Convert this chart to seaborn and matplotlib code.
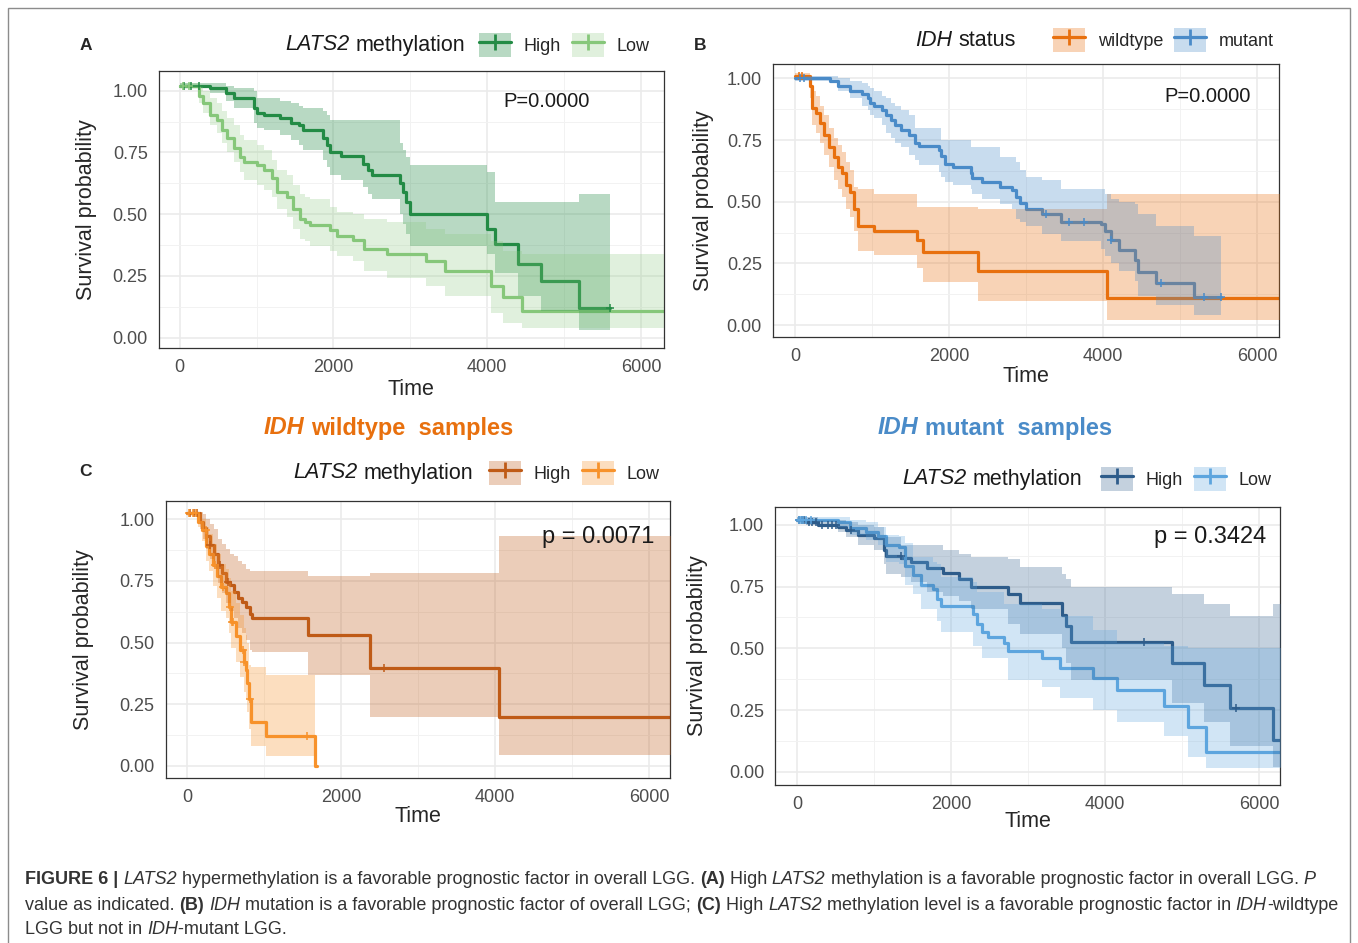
import matplotlib
matplotlib.use("Agg")
import matplotlib.pyplot as plt
from matplotlib.patches import Patch, Rectangle
from matplotlib.lines import Line2D
import numpy as np
import seaborn as sns

# ---------------- data ----------------
# Panel A: LATS2 methylation, all LGG
a_high_t = [0, 400, 600, 700, 960, 1000, 1100, 1300, 1450, 1550, 1600, 1870, 1920, 1960, 2100,
            2380, 2450, 2500, 2870, 2900, 2940, 3000, 4000, 4100, 4400, 4700, 5200, 5600]
a_high_s = [1.02, 1.01, 0.99, 0.97, 0.93, 0.91, 0.90, 0.89, 0.87, 0.86, 0.84, 0.81, 0.78, 0.75, 0.735,
            0.705, 0.68, 0.66, 0.625, 0.59, 0.55, 0.50, 0.44, 0.38, 0.30, 0.23, 0.12, 0.12]
a_high_hi = [1.03, 1.03, 1.02, 1.01, 1.00, 0.97, 0.97, 0.96, 0.95, 0.94, 0.93, 0.92, 0.90, 0.88, 0.88,
             0.88, 0.88, 0.88, 0.79, 0.76, 0.73, 0.70, 0.67, 0.55, 0.55, 0.55, 0.58, 0.58]
a_high_lo = [1.01, 0.99, 0.96, 0.93, 0.87, 0.85, 0.84, 0.82, 0.80, 0.78, 0.76, 0.72, 0.69, 0.66, 0.64,
             0.61, 0.58, 0.56, 0.50, 0.46, 0.42, 0.37, 0.34, 0.26, 0.17, 0.11, 0.03, 0.03]
a_high_cens = [60, 150, 250, 5600]

a_low_t = [0, 200, 250, 300, 400, 480, 550, 620, 700, 780, 830, 1000, 1100, 1200, 1260, 1400, 1480,
           1560, 1630, 1700, 1960, 2050, 2250, 2400, 2700, 3200, 3450, 4050, 4200, 4450, 6300]
a_low_s = [1.02, 1.02, 0.98, 0.95, 0.90, 0.88, 0.84, 0.81, 0.77, 0.73, 0.71, 0.70, 0.68, 0.645, 0.59,
           0.57, 0.52, 0.48, 0.47, 0.455, 0.435, 0.41, 0.395, 0.36, 0.34, 0.31, 0.27, 0.21, 0.165, 0.11, 0.11]
a_low_hi = [1.03, 1.03, 1.02, 1.00, 0.97, 0.95, 0.92, 0.89, 0.86, 0.82, 0.80, 0.78, 0.76, 0.72, 0.68,
            0.66, 0.62, 0.58, 0.57, 0.56, 0.53, 0.51, 0.50, 0.48, 0.47, 0.44, 0.42, 0.39, 0.35, 0.34, 0.34]
a_low_lo = [1.01, 1.01, 0.95, 0.91, 0.86, 0.83, 0.79, 0.75, 0.71, 0.67, 0.64, 0.62, 0.60, 0.57, 0.52,
            0.49, 0.44, 0.40, 0.39, 0.37, 0.35, 0.33, 0.31, 0.27, 0.24, 0.21, 0.17, 0.10, 0.06, 0.04, 0.04]
a_low_cens = [40, 120]

# Panel B: IDH status
b_wt_t = [0, 150, 200, 225, 277, 328, 380, 446, 508, 560, 610, 660, 713, 764, 815, 1020, 1585, 1660,
          2380, 4046, 6300]
b_wt_s = [1.01, 1.01, 0.97, 0.88, 0.86, 0.82, 0.77, 0.72, 0.68, 0.64, 0.615, 0.57, 0.54, 0.47, 0.40,
          0.38, 0.345, 0.295, 0.22, 0.11, 0.11]
b_wt_hi = [1.02, 1.02, 1.01, 0.95, 0.93, 0.89, 0.85, 0.80, 0.76, 0.73, 0.70, 0.66, 0.63, 0.56, 0.55,
           0.53, 0.48, 0.48, 0.47, 0.53, 0.53]
b_wt_lo = [1.00, 1.00, 0.92, 0.81, 0.78, 0.74, 0.69, 0.64, 0.59, 0.55, 0.52, 0.47, 0.44, 0.38, 0.30,
           0.285, 0.23, 0.175, 0.10, 0.02, 0.02]
b_wt_cens = [50, 90]

b_mu_t = [0, 456, 560, 713, 867, 944, 970, 1020, 1123, 1174, 1251, 1302, 1380, 1482, 1560, 1610, 1867,
          1892, 1944, 2046, 2277, 2302, 2431, 2661, 2815, 2866, 2918, 2995, 3200, 3456, 3969, 4020,
          4097, 4200, 4405, 4456, 4687, 5174, 5533]
b_mu_s = [1.00, 0.99, 0.97, 0.95, 0.935, 0.92, 0.90, 0.89, 0.87, 0.85, 0.83, 0.81, 0.79, 0.77, 0.74,
          0.725, 0.71, 0.685, 0.655, 0.64, 0.615, 0.595, 0.58, 0.56, 0.548, 0.52, 0.495, 0.47, 0.45,
          0.42, 0.41, 0.38, 0.345, 0.305, 0.265, 0.215, 0.17, 0.115, 0.115]
b_mu_hi = [1.01, 1.01, 1.00, 0.99, 0.98, 0.97, 0.96, 0.95, 0.93, 0.92, 0.90, 0.89, 0.87, 0.85, 0.80,
           0.80, 0.80, 0.75, 0.75, 0.75, 0.72, 0.72, 0.72, 0.68, 0.68, 0.66, 0.63, 0.60, 0.59, 0.55,
           0.55, 0.53, 0.51, 0.50, 0.49, 0.45, 0.40, 0.36, 0.36]
b_mu_lo = [0.99, 0.98, 0.95, 0.92, 0.89, 0.87, 0.85, 0.84, 0.81, 0.78, 0.76, 0.74, 0.72, 0.69, 0.67,
           0.65, 0.62, 0.60, 0.58, 0.57, 0.55, 0.53, 0.51, 0.49, 0.47, 0.43, 0.42, 0.40, 0.37, 0.34,
           0.31, 0.28, 0.25, 0.22, 0.18, 0.12, 0.08, 0.04, 0.04]
b_mu_cens = [60, 120, 3250, 3560, 3750, 4100, 4750, 5300, 5533]

# Panel C: IDH wildtype samples
c_high_t = [0, 144, 170, 205, 247, 298, 350, 400, 452, 503, 555, 606, 658, 709, 760, 812, 837, 1572,
            2378, 4048, 6300]
c_high_s = [1.025, 1.025, 0.99, 0.965, 0.93, 0.895, 0.86, 0.815, 0.78, 0.745, 0.735, 0.705, 0.68,
            0.665, 0.645, 0.615, 0.60, 0.53, 0.395, 0.20, 0.20]
c_high_hi = [1.03, 1.03, 1.03, 1.02, 1.00, 0.98, 0.96, 0.92, 0.90, 0.88, 0.86, 0.85, 0.83, 0.82, 0.80,
             0.79, 0.79, 0.77, 0.78, 0.93, 0.93]
c_high_lo = [1.02, 1.02, 0.96, 0.92, 0.88, 0.84, 0.80, 0.74, 0.70, 0.66, 0.63, 0.60, 0.56, 0.54, 0.51,
             0.47, 0.46, 0.37, 0.20, 0.045, 0.045]
c_high_cens = [40, 90, 130, 300, 420, 530, 2560]

c_low_t = [0, 118, 144, 195, 247, 288, 339, 390, 442, 503, 545, 565, 632, 683, 735, 760, 770, 800,
           822, 1017, 1660, 1680]
c_low_s = [1.025, 1.025, 0.99, 0.955, 0.89, 0.86, 0.815, 0.77, 0.725, 0.70, 0.645, 0.585, 0.525,
           0.47, 0.42, 0.39, 0.335, 0.27, 0.18, 0.12, 0.0, 0.0]
c_low_hi = [1.03, 1.03, 1.03, 1.00, 0.97, 0.94, 0.90, 0.86, 0.82, 0.80, 0.76, 0.71, 0.66, 0.61, 0.56,
            0.53, 0.50, 0.41, 0.40, 0.37, 0.0, 0.0]
c_low_lo = [1.02, 1.02, 0.97, 0.91, 0.83, 0.79, 0.73, 0.68, 0.63, 0.60, 0.54, 0.48, 0.42, 0.36, 0.30,
            0.27, 0.22, 0.15, 0.08, 0.04, 0.0, 0.0]
c_low_cens = [20, 70, 110, 240, 360, 470, 560, 580, 600, 720, 740, 815, 1560]

# Panel D: IDH mutant samples
d_high_t = [0, 123, 277, 534, 637, 791, 996, 1125, 1150, 1356, 1484, 1690, 1895, 2100, 2254, 2742,
            2896, 3435, 3487, 3564, 4873, 5284, 5618, 6183, 6300]
d_high_s = [1.02, 1.01, 1.00, 0.99, 0.98, 0.96, 0.945, 0.90, 0.875, 0.865, 0.85, 0.825, 0.805, 0.78,
            0.75, 0.72, 0.685, 0.635, 0.59, 0.525, 0.44, 0.35, 0.26, 0.13, 0.13]
d_high_hi = [1.03, 1.03, 1.02, 1.02, 1.01, 1.00, 0.99, 0.96, 0.95, 0.92, 0.92, 0.92, 0.90, 0.88, 0.87,
             0.86, 0.83, 0.80, 0.78, 0.75, 0.72, 0.68, 0.63, 0.68, 0.68]
d_high_lo = [1.01, 1.00, 0.99, 0.97, 0.95, 0.92, 0.90, 0.84, 0.80, 0.79, 0.77, 0.73, 0.71, 0.69, 0.66,
             0.60, 0.56, 0.50, 0.44, 0.37, 0.28, 0.20, 0.105, 0.02, 0.02]
d_high_cens = [30, 60, 90, 150, 200, 250, 320, 400, 450, 500, 700, 1350, 4500, 5700]

d_low_t = [0, 534, 688, 894, 1048, 1150, 1330, 1407, 1510, 1612, 1766, 1818, 1869, 2280, 2331, 2408,
           2485, 2691, 2742, 3179, 3410, 3846, 4154, 4770, 5079, 5310, 6300]
d_low_s = [1.02, 1.01, 0.985, 0.97, 0.955, 0.92, 0.91, 0.835, 0.795, 0.755, 0.74, 0.70, 0.67, 0.64,
           0.60, 0.565, 0.545, 0.52, 0.49, 0.46, 0.42, 0.38, 0.33, 0.265, 0.18, 0.08, 0.08]
d_low_hi = [1.03, 1.03, 1.02, 1.01, 0.99, 0.96, 0.955, 0.925, 0.87, 0.87, 0.85, 0.84, 0.79, 0.77, 0.73,
            0.73, 0.73, 0.68, 0.68, 0.66, 0.63, 0.575, 0.52, 0.51, 0.50, 0.50, 0.50]
d_low_lo = [1.01, 0.99, 0.96, 0.94, 0.92, 0.85, 0.84, 0.755, 0.72, 0.66, 0.66, 0.61, 0.565, 0.51, 0.51,
            0.46, 0.46, 0.46, 0.37, 0.345, 0.30, 0.25, 0.20, 0.145, 0.06, 0.015, 0.015]
d_low_cens = [20, 50, 80, 120, 180]

p_values = ["P=0.0000", "P=0.0000", "p = 0.0071", "p = 0.3424"]
x_ticks = [0, 2000, 4000, 6000]
y_ticks = [0.0, 0.25, 0.50, 0.75, 1.00]

# text pieces: (text, style) with style b = bold, i = italic, n = plain
lats2_title = [("LATS2", 'i'), (" methylation", 'n')]
idh_title = [("IDH", 'i'), (" status", 'n')]
wt_title = [("IDH", 'bi'), (" wildtype  samples", 'b')]
mu_title = [("IDH", 'bi'), (" mutant  samples", 'b')]
caption = [
    [("FIGURE 6 | ", 'b'), ("LATS2", 'i'),
     (" hypermethylation is a favorable prognostic factor in overall LGG. ", 'n'), ("(A)", 'b'),
     (" High ", 'n'), ("LATS2", 'i'),
     (" methylation is a favorable prognostic factor in overall LGG. ", 'n'), ("P", 'i')],
    [("value as indicated. ", 'n'), ("(B)", 'b'), (" ", 'n'), ("IDH", 'i'),
     (" mutation is a favorable prognostic factor of overall LGG; ", 'n'), ("(C)", 'b'),
     (" High ", 'n'), ("LATS2", 'i'),
     (" methylation level is a favorable prognostic factor in ", 'n'), ("IDH", 'i'), ("-wildtype", 'n')],
    [("LGG but not in ", 'n'), ("IDH", 'i'), ("-mutant LGG.", 'n')],
]

# ---------------- style ----------------
W, H = 1358, 943
sns.set_style("white")
plt.rcParams['font.family'] = ['Liberation Sans', 'DejaVu Sans']

fig = plt.figure(figsize=(W / 100, H / 100), dpi=100)
renderer = fig.canvas.get_renderer()


def fx(px):
    return px / W


def fy(py):
    return 1 - py / H


def font_kw(st, size):
    return dict(fontsize=size, fontweight='bold' if 'b' in st else 'normal',
                fontstyle='italic' if 'i' in st else 'normal')


def advance(text, st, size):
    # width including spaces: measure between two bars
    t1 = fig.text(0, 0, "|" + text + "|", **font_kw(st, size))
    t2 = fig.text(0, 0, "||", **font_kw(st, size))
    w = t1.get_window_extent(renderer).width - t2.get_window_extent(renderer).width
    t1.remove()
    t2.remove()
    return w


def rich(x, y, parts, size, color, align='left'):
    if align == 'right':
        x -= sum(advance(s, st, size) for s, st in parts)
    for s, st in parts:
        body = s.lstrip(' ')
        lead = len(s) - len(body)
        xo = x + (advance(' ' * lead, st, size) if lead else 0)
        fig.text(fx(xo), fy(y), body, ha='left', va='center', color=color, **font_kw(st, size))
        x += advance(s, st, size)


def add_axes(left, top, right, bottom):
    return fig.add_axes([fx(left), fy(bottom), (right - left) / W, (bottom - top) / H])


def km(ax, t, s, hi, lo, color, alpha, cens=None):
    t = np.asarray(t, float)
    s = np.asarray(s, float)
    sns.lineplot(x=t, y=s, ax=ax, color=color, linewidth=2.3, drawstyle='steps-post',
                 estimator=None, sort=False, zorder=2)
    ax.fill_between(t, lo, hi, step='post', color=color, alpha=alpha, linewidth=0, zorder=3)
    if cens:
        c = np.asarray(cens, float)
        idx = np.searchsorted(t, c, side='right') - 1
        sns.scatterplot(x=c, y=s[idx], ax=ax, marker='+', s=30, color=color, linewidth=1.1,
                        zorder=4, legend=False)


def style(ax, xlim, ylim, xlab_y, ylab_x):
    ax.set_xlim(*xlim)
    ax.set_ylim(*ylim)
    ax.set_xticks(x_ticks)
    ax.set_xticks([1000, 3000, 5000], minor=True)
    ax.set_yticks(y_ticks)
    ax.set_yticklabels([f"{v:.2f}" for v in y_ticks])
    ax.set_yticks([0.125, 0.375, 0.625, 0.875], minor=True)
    ax.grid(which='major', color='#EBEBEB', linewidth=1.2)
    ax.grid(which='minor', color='#F2F2F2', linewidth=0.7)
    ax.set_axisbelow(True)
    ax.tick_params(which='major', direction='out', length=3.5, width=0.9, color='#333333',
                   labelcolor='#4D4D4D', labelsize=13, pad=4.5)
    ax.tick_params(which='minor', length=0)
    for sp in ax.spines.values():
        sp.set_visible(True)
        sp.set_color('#333333')
        sp.set_linewidth(0.9)
    ax.set_xlabel('Time', fontsize=15.5)
    ax.set_ylabel('Survival probability', fontsize=15.5)
    ax.xaxis.set_label_coords(0.5, xlab_y)
    ax.xaxis.label.set_verticalalignment('center')
    ax.yaxis.set_label_coords(ylab_x, 0.5)
    ax.yaxis.label.set_verticalalignment('center')


def legend(title, labels, colors, alphas, title_right, box_left, yc):
    rich(title_right, yc, title, 15.5, '#1A1A1A', align='right')
    handles = [(Patch(facecolor=c, alpha=a, edgecolor='none'),
                Line2D([], [], color=c, linewidth=2.3, marker='+', markersize=12, markeredgewidth=2.0))
               for c, a in zip(colors, alphas)]
    fig.legend(handles, labels, loc='center left', bbox_to_anchor=(fx(box_left), fy(yc)), ncol=2,
               frameon=False, fontsize=13, handlelength=1.78, handleheight=1.72, handletextpad=0.7,
               columnspacing=0.6, borderpad=0, borderaxespad=0, numpoints=1)


# ---------------- panel A ----------------
ga_high, ga_low = '#238B45', '#86C77A'
axA = add_axes(158.8, 71, 663.5, 348.3)
km(axA, a_high_t, a_high_s, a_high_hi, a_high_lo, ga_high, 0.32, a_high_cens)
km(axA, a_low_t, a_low_s, a_low_hi, a_low_lo, ga_low, 0.25, a_low_cens)
style(axA, (-272, 6293), (-0.043, 1.08), -0.147, -0.144)
axA.text(4776, 0.955, p_values[0], ha='center', va='center', fontsize=14.5, color='#1A1A1A')
legend(lats2_title, ["High", "Low"], [ga_high, ga_low], [0.32, 0.25], 465, 479, 45)

# ---------------- panel B ----------------
b_wt_c, b_mu_c = '#E8700E', '#4A8BC8'
axB = add_axes(772.9, 64.3, 1278.8, 337.3)
km(axB, b_wt_t, b_wt_s, b_wt_hi, b_wt_lo, b_wt_c, 0.3, b_wt_cens)
km(axB, b_mu_t, b_mu_s, b_mu_hi, b_mu_lo, b_mu_c, 0.3, b_mu_cens)
style(axB, (-287, 6277), (-0.049, 1.057), -0.142, -0.137)
axB.text(5354, 0.926, p_values[1], ha='center', va='center', fontsize=14.5, color='#1A1A1A')
legend(idh_title, ["wildtype", "mutant"], [b_wt_c, b_mu_c], [0.3, 0.3], 1016, 1053, 40)

# ---------------- panel C ----------------
c_high_c, c_low_c = '#BF5B17', '#F7922B'
axC = add_axes(165.5, 500.7, 669.5, 778.3)
km(axC, c_high_t, c_high_s, c_high_hi, c_high_lo, c_high_c, 0.3, c_high_cens)
km(axC, c_low_t, c_low_s, c_low_hi, c_low_lo, c_low_c, 0.3, c_low_cens)
style(axC, (-283, 6267), (-0.05, 1.075), -0.138, -0.162)
axC.text(5342, 0.927, p_values[2], ha='center', va='center', fontsize=17, color='#1A1A1A')
legend(lats2_title, ["High", "Low"], [c_high_c, c_low_c], [0.3, 0.3], 473, 489, 473)

# ---------------- panel D ----------------
d_high_c, d_low_c = '#2E5C8A', '#5DA5DE'
axD = add_axes(775.3, 507, 1279.6, 785)
km(axD, d_high_t, d_high_s, d_high_hi, d_high_lo, d_high_c, 0.28, d_high_cens)
km(axD, d_low_t, d_low_s, d_low_hi, d_low_lo, d_low_c, 0.28, d_low_cens)
style(axD, (-282, 6267), (-0.053, 1.072), -0.132, -0.154)
axD.text(5359, 0.951, p_values[3], ha='center', va='center', fontsize=17, color='#1A1A1A')
legend(lats2_title, ["High", "Low"], [d_high_c, d_low_c], [0.28, 0.28], 1082, 1101, 479)

# ---------------- panel letters and group titles ----------------
for letter, px, py in [("A", 86, 45), ("B", 700, 45), ("C", 85, 471)]:
    fig.text(fx(px), fy(py), letter, ha='center', va='center', fontsize=12.5, fontweight='bold')

rich(264, 428, wt_title, 17, b_wt_c)
rich(878, 428, mu_title, 17, b_mu_c)

# ---------------- caption ----------------
for parts, py in zip(caption, [880, 905, 929]):
    rich(25, py, parts, 13, '#333333')

fig.add_artist(Rectangle((fx(8), -0.02), (1350 - 8) / W, fy(8) + 0.02, transform=fig.transFigure,
                         fill=False, edgecolor='#8C8C8C', linewidth=1.0))

fig.savefig("out.png", dpi=100)
